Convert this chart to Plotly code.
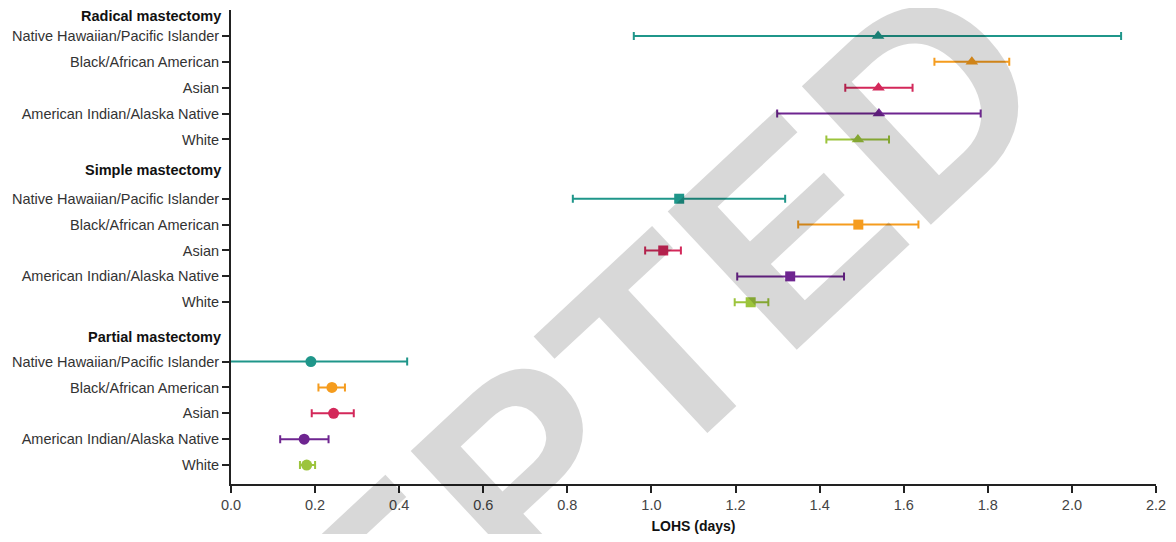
import plotly.graph_objects as go

# ---- data ----
races = ["Native Hawaiian/Pacific Islander", "Black/African American", "Asian",
         "American Indian/Alaska Native", "White"]
groups = ["Radical mastectomy", "Simple mastectomy", "Partial mastectomy"]

radical_mean = [1.539, 1.762, 1.540, 1.541, 1.491]
radical_lo = [0.958, 1.673, 1.461, 1.299, 1.416]
radical_hi = [2.117, 1.851, 1.621, 1.783, 1.565]

simple_mean = [1.066, 1.492, 1.028, 1.330, 1.236]
simple_lo = [0.813, 1.349, 0.985, 1.204, 1.198]
simple_hi = [1.318, 1.635, 1.070, 1.458, 1.278]

partial_mean = [0.190, 0.240, 0.244, 0.174, 0.180]
partial_lo = [-0.040, 0.208, 0.192, 0.117, 0.164]
partial_hi = [0.419, 0.271, 0.292, 0.232, 0.200]

x_ticks = [0.0, 0.2, 0.4, 0.6, 0.8, 1.0, 1.2, 1.4, 1.6, 1.8, 2.0, 2.2]
x_title = "LOHS (days)"
watermark = "ACCEPTED"

# ---- styling ----
colors = ["#1f968a", "#f59c1e", "#d3285a", "#6e2590", "#9cc43c"]
symbols = ["triangle-up", "square", "circle"]
sizes = [11, 10, 11]
FONT = "Liberation Sans, Arial, sans-serif"

group_base = [12.58, 6.29, 0.0]       # y of "White" row in each group
header_off = [4.78, 5.1, 4.96]        # header offset above the White row
row_off = [4, 3, 2, 1, 0]

data = [
    (radical_mean, radical_lo, radical_hi),
    (simple_mean, simple_lo, simple_hi),
    (partial_mean, partial_lo, partial_hi),
]

fig = go.Figure()
tickvals, ticktext = [], []
for gi, (m, lo, hi) in enumerate(data):
    for ri, race in enumerate(races):
        y = group_base[gi] + row_off[ri]
        tickvals.append(y)
        ticktext.append(race)
        fig.add_trace(go.Scatter(
            x=[m[ri]], y=[y], mode="markers",
            marker=dict(symbol=symbols[gi], size=sizes[gi], color=colors[ri]),
            error_x=dict(type="data", symmetric=False,
                         array=[hi[ri] - m[ri]], arrayminus=[m[ri] - lo[ri]],
                         color=colors[ri], thickness=2, width=4),
            showlegend=False, cliponaxis=True,
        ))

annotations = []
for gi, g in enumerate(groups):
    annotations.append(dict(
        text="<b>%s</b>" % g, xref="paper", yref="y", x=0,
        y=group_base[gi] + header_off[gi], xanchor="right", yanchor="middle",
        xshift=-8, showarrow=False,
        font=dict(family=FONT, size=14.5, color="#111111"),
    ))

annotations.append(dict(
    text=watermark, xref="paper", yref="paper", x=0.231, y=-0.134,
    xanchor="center", yanchor="middle", showarrow=False, textangle=-43,
    font=dict(family=FONT, size=275, color="#000000", weight=700),
    opacity=0.15,
))

# page body has an 8px margin, so the figure is sized to fit inside it
fig.update_layout(
    width=1160, height=526,
    margin=dict(l=223, r=12, t=2, b=48),
    paper_bgcolor="white", plot_bgcolor="white",
    font=dict(family=FONT, size=14.5, color="#333333"),
    xaxis=dict(
        range=[0, 2.2], tickvals=x_ticks, tickformat=".1f",
        showgrid=False, zeroline=False, showline=True,
        linecolor="#222222", linewidth=2,
        ticks="outside", ticklen=7, tickwidth=2, tickcolor="#222222",
        tickfont=dict(family=FONT, size=14.5, color="#444444"),
        title=dict(text="<b>%s</b>" % x_title, standoff=9,
                   font=dict(family=FONT, size=14, color="#111111")),
    ),
    yaxis=dict(
        range=[-0.73, 17.58], tickvals=tickvals, ticktext=ticktext,
        showgrid=False, zeroline=False, showline=True,
        linecolor="#222222", linewidth=2,
        ticks="outside", ticklen=7, tickwidth=2, tickcolor="#222222",
        tickfont=dict(family=FONT, size=14.5, color="#333333"),
    ),
    annotations=annotations,
)

fig.write_html("out.html")
